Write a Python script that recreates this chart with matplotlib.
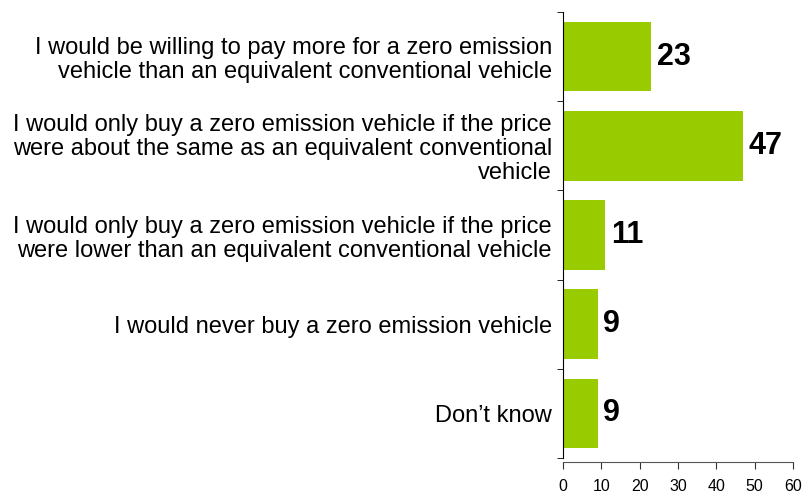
import numpy as np
import matplotlib
matplotlib.use('Agg')
import matplotlib.pyplot as plt

plt.rcParams['font.family'] = ['Liberation Sans', 'DejaVu Sans']

labels = ['I would be willing to pay more for a zero emission\nvehicle than an equivalent conventional vehicle',
          'I would only buy a zero emission vehicle if the price\nwere about the same as an equivalent conventional\nvehicle',
          'I would only buy a zero emission vehicle if the price\nwere lower than an equivalent conventional vehicle',
          'I would never buy a zero emission vehicle',
          'Don\u2019t know']
values = [23, 47, 11, 9, 9]

fig = plt.figure(figsize=(8.02, 4.94), dpi=100)
ax = fig.add_axes([563/802, (494-458)/494, 230/802, 446/494])

pos = np.arange(len(values))
ax.barh(pos, values, height=0.78, color='#99CC00')
for p, v in zip(pos, values):
    ax.text(v + 1.5, p, str(v), va='center', ha='left', fontsize=22, fontweight='bold')

ax.set_xlim(0, 60)
ax.set_ylim(len(values) - 0.5, -0.5)
ax.set_xticks(np.arange(0, 61, 10))
ax.tick_params(axis='x', labelsize=11.5, length=5, direction='out', color='#333333', pad=7)
ax.set_yticks(pos)
ax.set_yticklabels(labels, fontsize=17, ha='right', multialignment='right', linespacing=1.12)
ax.tick_params(axis='y', which='major', length=0, pad=8)
ax.set_yticks(np.arange(-0.5, len(values), 1), minor=True)
ax.tick_params(axis='y', which='minor', length=4, direction='out')

ax.spines['top'].set_visible(False)
ax.spines['right'].set_visible(False)
ax.spines['bottom'].set_position(('outward', 3))
ax.spines['bottom'].set_color('#555555')

fig.savefig('out.png', dpi=100)
